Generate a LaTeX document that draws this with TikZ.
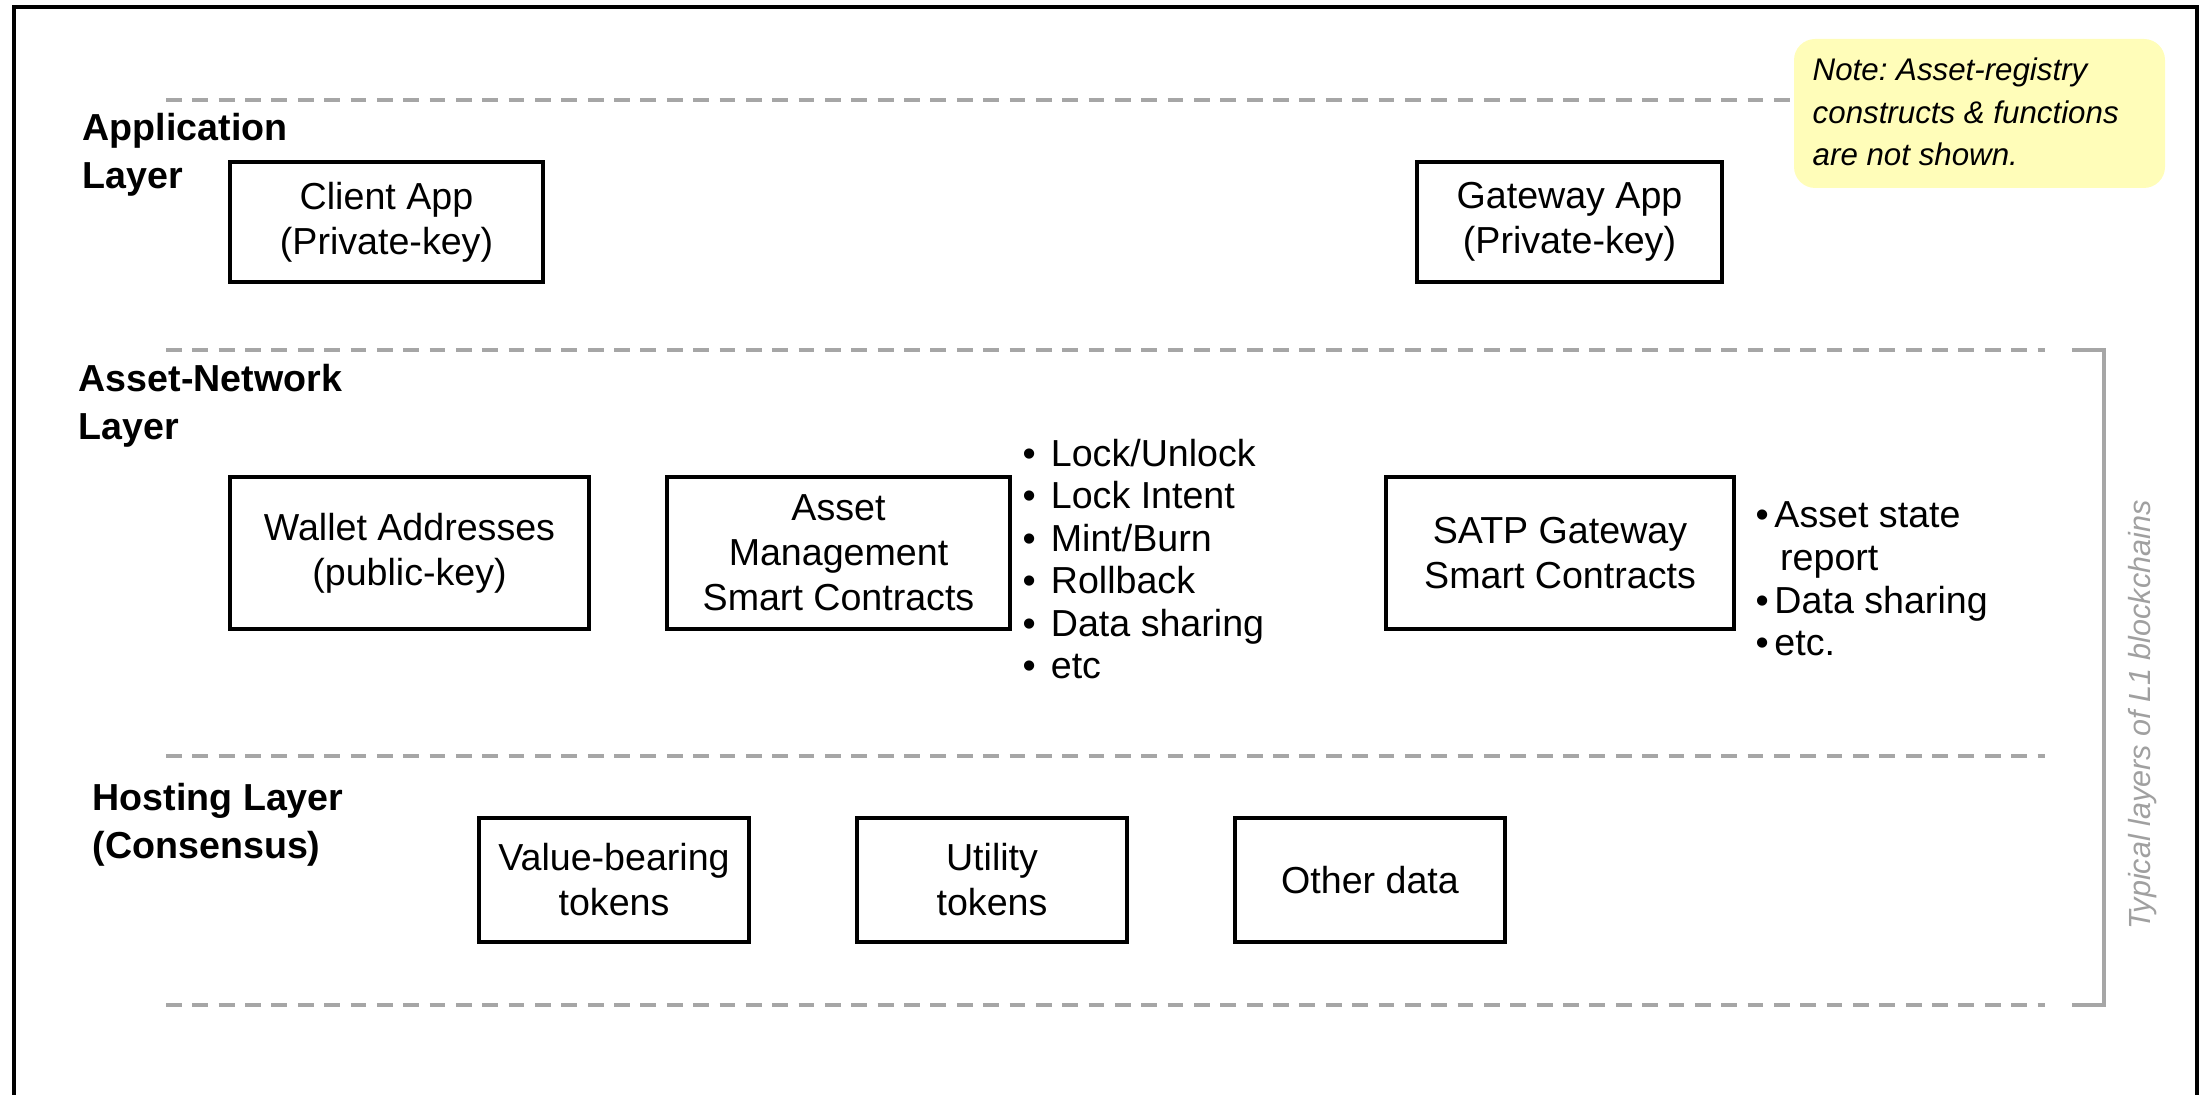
\documentclass[tikz,border=0pt]{standalone}
\usepackage{fontspec}
\setmainfont{Liberation Sans}
\frenchspacing
\definecolor{layergray}{RGB}{166,166,166}
\definecolor{labelgray}{RGB}{160,160,160}
\definecolor{notefill}{RGB}{255,253,185}
\begin{document}
\begin{tikzpicture}[
  box/.style={draw=black, line width=0.9pt, align=center, inner sep=0pt,
    font=\fontsize{10.7}{12.8}\selectfont},
  layer/.style={anchor=west, align=left, inner sep=0pt,
    font=\fontsize{10.7}{13.5}\selectfont\bfseries},
  sep/.style={draw=layergray, line width=0.9pt, dash pattern=on 4.5pt off 3pt},
  items/.style={anchor=west, align=left, inner sep=0pt,
    font=\fontsize{10.7}{12.1}\selectfont}
]
\useasboundingbox (0, 0) rectangle (22.11, 10.95);
\draw[line width=0.9pt] (0.14, -0.2) -- (0.14, 10.88) -- (21.97, 10.88) -- (21.97, -0.2);
% layer borders
\draw[sep] (1.66, 9.95) -- (17.94, 9.95);
\draw[sep] (1.66, 7.45) -- (20.45, 7.45);
\draw[sep] (1.66, 3.39) -- (20.45, 3.39);
\draw[sep] (1.66, 0.90) -- (20.45, 0.90);
\draw[draw=layergray, line width=0.9pt] (20.72, 7.45) -- (21.04, 7.45) -- (21.04, 0.90) -- (20.72, 0.90);
\node[rotate=90, text=labelgray, font=\fontsize{8.7}{10}\selectfont\itshape] (typical) at (21.43, 3.80) {Typical layers of L1 blockchains};
% note
\node[fill=notefill, rounded corners=6pt, minimum width=3.71cm, minimum height=1.49cm, inner sep=0pt] (notebox) at (19.795, 9.815) {};
\node[anchor=west, align=left, inner sep=0pt, font=\fontsize{8.9}{12}\selectfont\itshape] (note) at (18.12, 9.83) {Note: Asset-registry\\constructs \& functions\\are not shown.};
% application layer
\node[layer] (applayer) at (0.82, 9.40) {Application\\Layer};
\node[box, minimum width=3.13cm, minimum height=1.20cm] (client) at (3.865, 8.73) {Client App\\(Private-key)};
\node[box, minimum width=3.05cm, minimum height=1.20cm] (gwapp) at (15.695, 8.73) {Gateway App\\(Private-key)};
% asset-network layer
\node[layer] (netlayer) at (0.78, 6.89) {Asset-Network\\Layer};
\node[box, minimum width=3.59cm, minimum height=1.52cm] (wallet) at (4.095, 5.42) {Wallet Addresses\\(public-key)};
\node[box, minimum width=3.43cm, minimum height=1.52cm] (assetsc) at (8.385, 5.42) {Asset\\Management\\Smart Contracts};
\node[items] (assetops) at (10.22, 5.36) {\textbullet\hspace{0.4em}Lock/Unlock\\\textbullet\hspace{0.4em}Lock Intent\\\textbullet\hspace{0.4em}Mint/Burn\\\textbullet\hspace{0.4em}Rollback\\\textbullet\hspace{0.4em}Data sharing\\\textbullet\hspace{0.4em}etc};
\node[box, minimum width=3.48cm, minimum height=1.52cm] (satpsc) at (15.60, 5.42) {SATP Gateway\\Smart Contracts};
\node[items] (satpops) at (17.55, 5.16) {\textbullet\hspace{0.15em}Asset state\\\phantom{\textbullet}\hspace{0.3em}report\\\textbullet\hspace{0.15em}Data sharing\\\textbullet\hspace{0.15em}etc.};
% hosting layer
\node[layer] (hostlayer) at (0.92, 2.70) {Hosting Layer\\(Consensus)};
\node[box, minimum width=2.70cm, minimum height=1.24cm] (valtok) at (6.14, 2.15) {Value-bearing\\tokens};
\node[box, minimum width=2.70cm, minimum height=1.24cm] (utiltok) at (9.92, 2.15) {Utility\\tokens};
\node[box, minimum width=2.70cm, minimum height=1.24cm] (otherdata) at (13.70, 2.15) {Other data};
\end{tikzpicture}
\end{document}
